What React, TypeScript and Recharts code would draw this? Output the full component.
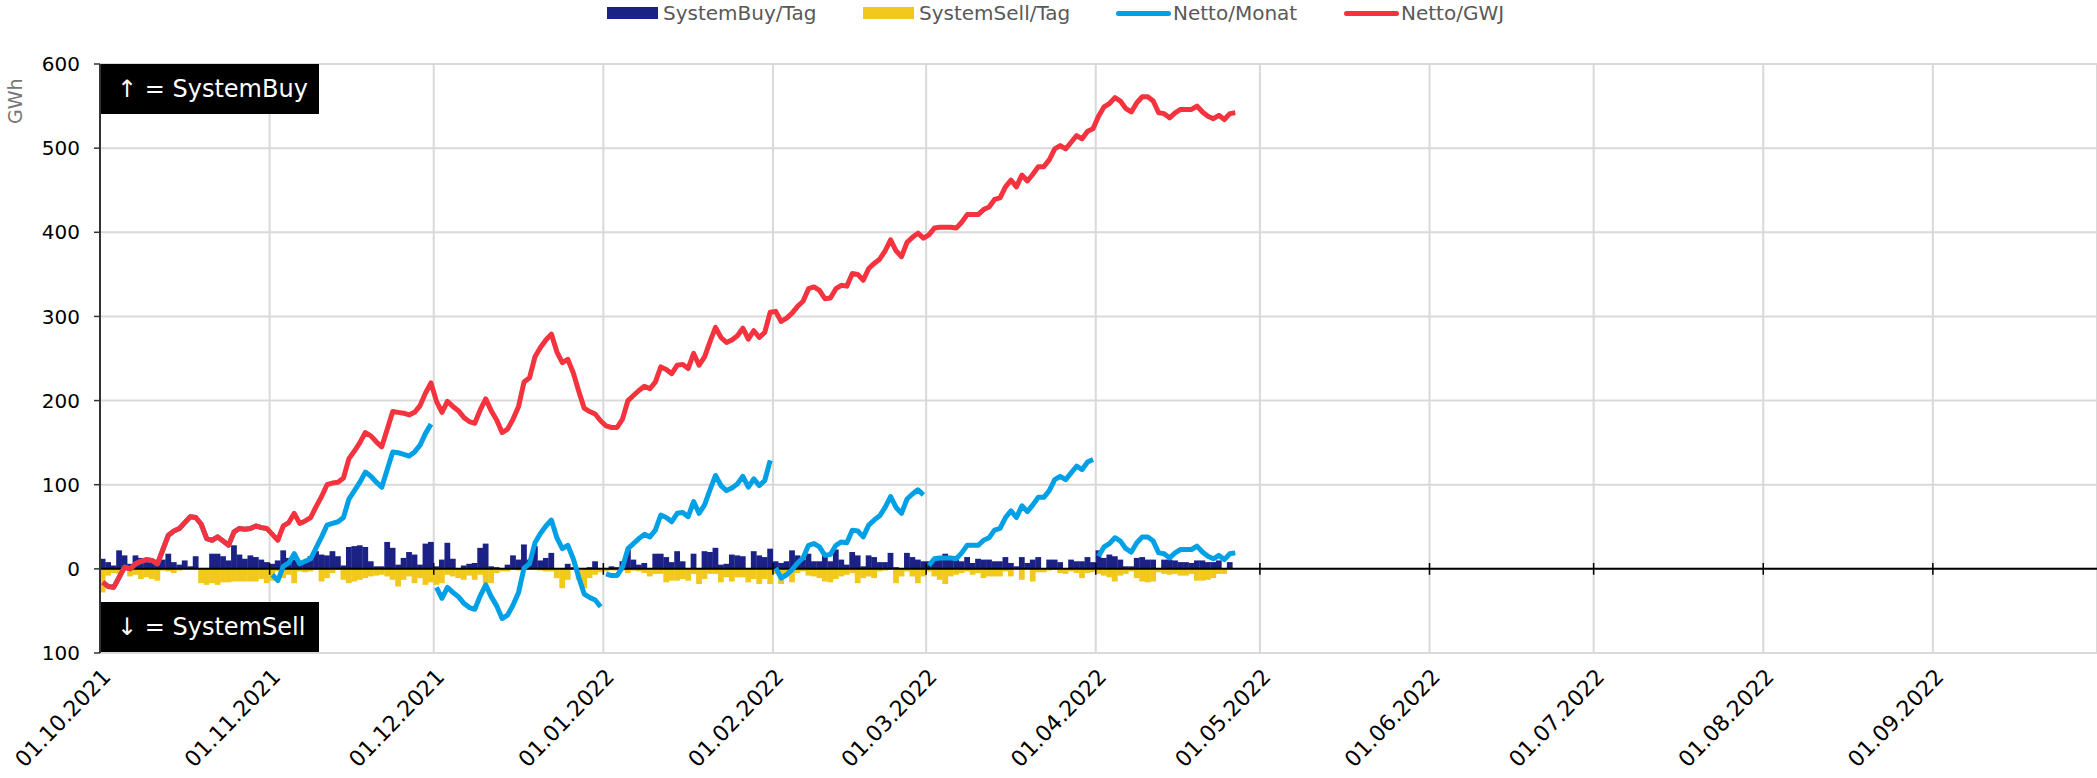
import {
  ComposedChart,
  Bar,
  Line,
  XAxis,
  YAxis,
  CartesianGrid,
  ReferenceLine,
} from 'recharts'

// day 0 = 01.10.2021, one value per day
const monthStarts = [0, 31, 61, 92, 123, 151, 182, 212, 243, 273, 304, 335]
const monthLabels = [
  '01.10.2021',
  '01.11.2021',
  '01.12.2021',
  '01.01.2022',
  '01.02.2022',
  '01.03.2022',
  '01.04.2022',
  '01.05.2022',
  '01.06.2022',
  '01.07.2022',
  '01.08.2022',
  '01.09.2022',
]
const yTicks = [-100, 0, 100, 200, 300, 400, 500, 600]

const systemBuy = [
  12, 8, 4, 22, 16, 6, 16, 13, 12, 11, 9, 11, 18, 8, 5, 10, 3, 15, 0, 0, 18, 18, 15, 10, 28, 17, 12, 16, 14, 11, 8,
  6, 10, 22, 13, 11, 5, 8, 15, 21, 17, 16, 21, 15, 4, 26, 27, 28, 26, 9, 3, 3, 32, 25, 5, 13, 20, 17, 5, 30, 32,
  3, 11, 31, 12, 1, 4, 6, 7, 25, 30, 3, 2, 1, 5, 16, 11, 29, 11, 27, 10, 13, 19, 1, 1, 6, 2, 1, 1, 2, 9, 1,
  1, 3, 2, 9, 23, 11, 5, 7, 0, 18, 18, 14, 8, 21, 9, 1, 18, 0, 21, 20, 25, 5, 6, 17, 16, 15, 0, 21, 16, 14, 24,
  9, 7, 9, 22, 16, 11, 18, 9, 9, 18, 9, 23, 11, 5, 20, 16, 3, 16, 14, 8, 8, 19, 2, 1, 19, 14, 11, 9,
  9, 11, 14, 18, 11, 11, 9, 14, 7, 12, 11, 11, 9, 9, 14, 7, 3, 14, 7, 11, 14, 1, 11, 11, 8, 1, 11, 9, 9, 14, 8,
  22, 13, 17, 15, 11, 3, 3, 13, 14, 11, 11, 0, 11, 11, 10, 8, 8, 7, 10, 10, 8, 8, 10, 0, 8,
]

const systemSell = [
  -28, -8, -5, -6, -2, -9, -7, -12, -10, -12, -14, -2, -3, -5, -2, 0, 0, -1, -17, -19, -17, -19, -16, -16, -15, -15, -15, -15, -15, -12, -17,
  -14, -3, -11, -7, -17, -3, -4, -3, -1, -15, -11, -5, -1, -13, -17, -15, -13, -11, -9, -8, -7, -9, -13, -21, -13, -9, -17, -11, -19, -16,
  -19, -17, -7, -9, -11, -13, -8, -13, -7, -17, -17, -5, -3, -3, -1, -2, -1, -1, -1, -2, -3, -3, -11, -23, -13, -1, -13, -23, -11, -7, -4,
  -3, -2, -2, -2, -5, -2, -3, -5, -9, -6, -6, -16, -14, -14, -12, -14, -6, -18, -12, -6, -6, -16, -10, -15, -10, -10, -16, -12, -18, -12, -18,
  -6, -18, -9, -16, -5, -3, -8, -9, -11, -15, -16, -12, -9, -7, -5, -17, -11, -9, -11, -3, -2, -1, -17, -9, -3, -9, -17, -9,
  -3, -9, -13, -18, -9, -7, -5, -3, -7, -5, -11, -9, -9, -9, -3, -9, -1, -13, -1, -15, -4, -4, -2, -1, -5, -6, -3, -5, -11, -5, -4,
  -6, -8, -10, -15, -8, -6, -3, -11, -15, -16, -15, -4, -6, -7, -6, -8, -8, -6, -14, -14, -13, -11, -6, -6, -1,
]

const nettoMonat = [
  -16, -21, -22, -10, 2, 0, 6, 9, 11, 10, 6, 23, 40, 45, 48, 55, 62, 61, 53, 36, 34, 38, 33, 28, 44, 48, 47, 48, 51, 49, 48,
  -7, -14, 3, 7, 18, 6, 9, 12, 25, 38, 52, 54, 56, 61, 83, 93, 103, 115, 110, 103, 97, 118, 139, 138, 136, 134, 139, 147, 161, 172,
  -22, -35, -22, -28, -33, -41, -46, -48, -32, -19, -33, -44, -59, -55, -43, -28, 1, 6, 31, 42, 51, 58, 37, 24, 28, 12, -10, -30, -34, -37, -45,
  -6, -8, -8, 2, 24, 30, 36, 41, 38, 46, 64, 61, 56, 66, 67, 62, 80, 66, 76, 94, 111, 99, 93, 96, 101, 110, 97, 107, 99, 105, 129,
  1, -11, -7, -1, 7, 13, 28, 30, 26, 16, 17, 28, 32, 31, 46, 45, 38, 52, 58, 63, 73, 86, 73, 66, 83, 89, 94, 88,
  4, 12, 13, 13, 13, 12, 19, 28, 28, 28, 34, 37, 46, 48, 61, 69, 61, 75, 68, 76, 85, 85, 93, 106, 110, 106, 114, 122, 118, 127, 130,
  15, 26, 30, 37, 33, 24, 20, 31, 38, 38, 33, 19, 18, 13, 19, 23, 23, 23, 27, 20, 15, 12, 16, 11, 18, 19,
]

const nettoGwj = [
  -16, -21, -22, -10, 2, 0, 6, 9, 11, 10, 6, 23, 40, 45, 48, 55, 62, 61, 53, 36, 34, 38, 33, 28, 44, 48, 47, 48, 51, 49, 48,
  41, 34, 51, 55, 66, 54, 57, 61, 74, 86, 100, 102, 103, 108, 131, 140, 150, 162, 158, 151, 145, 166, 187, 186, 185, 183, 186, 194, 209, 221,
  199, 186, 199, 193, 188, 180, 175, 173, 189, 202, 188, 177, 162, 166, 178, 193, 222, 227, 252, 263, 272, 279, 258, 245, 249, 233, 211, 191, 187, 184, 176,
  170, 168, 168, 178, 200, 206, 212, 217, 214, 222, 240, 237, 232, 242, 243, 238, 256, 242, 252, 270, 287, 275, 269, 272, 277, 286, 273, 283, 275, 281, 305,
  306, 294, 298, 304, 312, 318, 333, 335, 331, 321, 322, 333, 337, 336, 351, 350, 343, 357, 363, 368, 378, 391, 378, 371, 388, 394, 399, 393,
  397, 405, 406, 406, 406, 405, 412, 421, 421, 421, 427, 430, 439, 441, 454, 462, 454, 468, 461, 469, 478, 478, 486, 499, 503, 499, 507, 515, 511, 520, 523,
  538, 549, 553, 560, 556, 547, 543, 554, 561, 561, 556, 542, 541, 536, 542, 546, 546, 546, 550, 543, 538, 535, 539, 534, 541, 542,
]

const NAVY = '#1b2185'
const YELLOW = '#f2c81c'
const BLUE = '#00a0e6'
const RED = '#f5333f'
const font = '"DejaVu Sans", sans-serif'
const DAY_PX = 1997 / 365

const data = nettoGwj.map((gwj, i) => ({
  x: i + 0.5,
  month: monthStarts.filter((m) => m <= i).length - 1,
  buy: systemBuy[i] ?? null,
  sell: systemSell[i] ?? null,
  monat: nettoMonat[i],
  gwj,
}))

const monthsWithData = monthStarts.filter((m) => m < nettoGwj.length)

// bars fill the whole day slot, like the original
function DayBar(props: any) {
  const { x, y, width, height, fill } = props
  if (!height || !width) return null
  const cx = x + width / 2
  const top = height < 0 ? y + height : y
  return <rect x={cx - DAY_PX / 2} y={top} width={DAY_PX + 0.3} height={Math.abs(height)} fill={fill} />
}

function DateTick(props: any) {
  const { x, y, payload } = props
  const label = monthLabels[monthStarts.indexOf(payload.value)]
  return (
    <text
      transform={`translate(${x + 12},${y + 25}) rotate(-46)`}
      textAnchor="end"
      fontSize={22}
      fontFamily={font}
      fill="#000"
    >
      {label}
    </text>
  )
}

const legendItems = [
  { name: 'SystemBuy/Tag', color: NAVY, kind: 'rect', left: 607 },
  { name: 'SystemSell/Tag', color: YELLOW, kind: 'rect', left: 863 },
  { name: 'Netto/Monat', color: BLUE, kind: 'line', left: 1116 },
  { name: 'Netto/GWJ', color: RED, kind: 'line', left: 1344 },
]

export default function App() {
  return (
    <div style={{ position: 'absolute', left: 0, top: 0, width: 2097, height: 778, background: '#fff' }}>
      <ComposedChart
        width={2097}
        height={778}
        data={data}
        stackOffset="sign"
        margin={{ top: 64, right: 0, bottom: 0, left: 0 }}
      >
        <CartesianGrid stroke="#d9d9d9" strokeWidth={2} />
        <XAxis
          dataKey="x"
          type="number"
          domain={[0, 365]}
          ticks={monthStarts}
          interval={0}
          tick={<DateTick />}
          tickLine={false}
          axisLine={false}
          tickSize={0}
          tickMargin={0}
          height={125}
        />
        <YAxis
          type="number"
          domain={[-100, 600]}
          ticks={yTicks}
          interval={0}
          width={100}
          tickFormatter={(v: number) => String(Math.abs(v))}
          tick={{ fontSize: 20, fill: '#000', fontFamily: font }}
          axisLine={{ stroke: '#333', strokeWidth: 2 }}
          tickLine={{ stroke: '#333', strokeWidth: 1.5 }}
          tickSize={6}
          tickMargin={14}
        />
        <Bar dataKey="buy" stackId="s" fill={NAVY} barSize={5} shape={<DayBar />} isAnimationActive={false} />
        <Bar dataKey="sell" stackId="s" fill={YELLOW} barSize={5} shape={<DayBar />} isAnimationActive={false} />
        <ReferenceLine y={0} stroke="#000" strokeWidth={2} />
        {monthStarts.slice(1).map((m) => (
          <ReferenceLine
            key={m}
            segment={[
              { x: m, y: -7 },
              { x: m, y: 7 },
            ]}
            stroke="#000"
            strokeWidth={1.5}
          />
        ))}
        {monthsWithData.map((m, k) => (
          <Line
            key={m}
            dataKey={(d: any) => (d.month === k ? d.monat : null)}
            stroke={BLUE}
            strokeWidth={5}
            strokeLinejoin="round"
            dot={false}
            activeDot={false}
            legendType="none"
            isAnimationActive={false}
          />
        ))}
        <Line
          dataKey="gwj"
          stroke={RED}
          strokeWidth={5}
          strokeLinejoin="round"
          dot={false}
          activeDot={false}
          isAnimationActive={false}
        />
      </ComposedChart>

      {legendItems.map((item) => (
        <div
          key={item.name}
          style={{
            position: 'absolute',
            left: item.left,
            top: 2,
            height: 22,
            display: 'flex',
            alignItems: 'center',
            fontFamily: font,
            fontSize: 20,
            color: '#595959',
            whiteSpace: 'nowrap',
          }}
        >
          <span
            style={{
              display: 'inline-block',
              flex: 'none',
              width: item.kind === 'rect' ? 51 : 55,
              height: item.kind === 'rect' ? 12 : 5,
              borderRadius: item.kind === 'rect' ? 0 : 3,
              background: item.color,
              marginRight: item.kind === 'rect' ? 5 : 2,
            }}
          />
          {item.name}
        </div>
      ))}

      <div
        style={{
          position: 'absolute',
          left: 4,
          top: 124,
          transform: 'rotate(-90deg)',
          transformOrigin: 'left top',
          fontFamily: font,
          fontSize: 19,
          color: '#777',
        }}
      >
        GWh
      </div>

      {[
        { text: '↑ = SystemBuy', top: 64 },
        { text: '↓ = SystemSell', top: 602 },
      ].map((b) => (
        <div
          key={b.text}
          style={{
            position: 'absolute',
            left: 101,
            top: b.top,
            width: 218,
            height: 50,
            background: '#000',
            color: '#fff',
            fontFamily: font,
            fontSize: 24,
            display: 'flex',
            alignItems: 'center',
            paddingLeft: 16,
            boxSizing: 'border-box',
            whiteSpace: 'nowrap',
          }}
        >
          {b.text}
        </div>
      ))}
    </div>
  )
}
